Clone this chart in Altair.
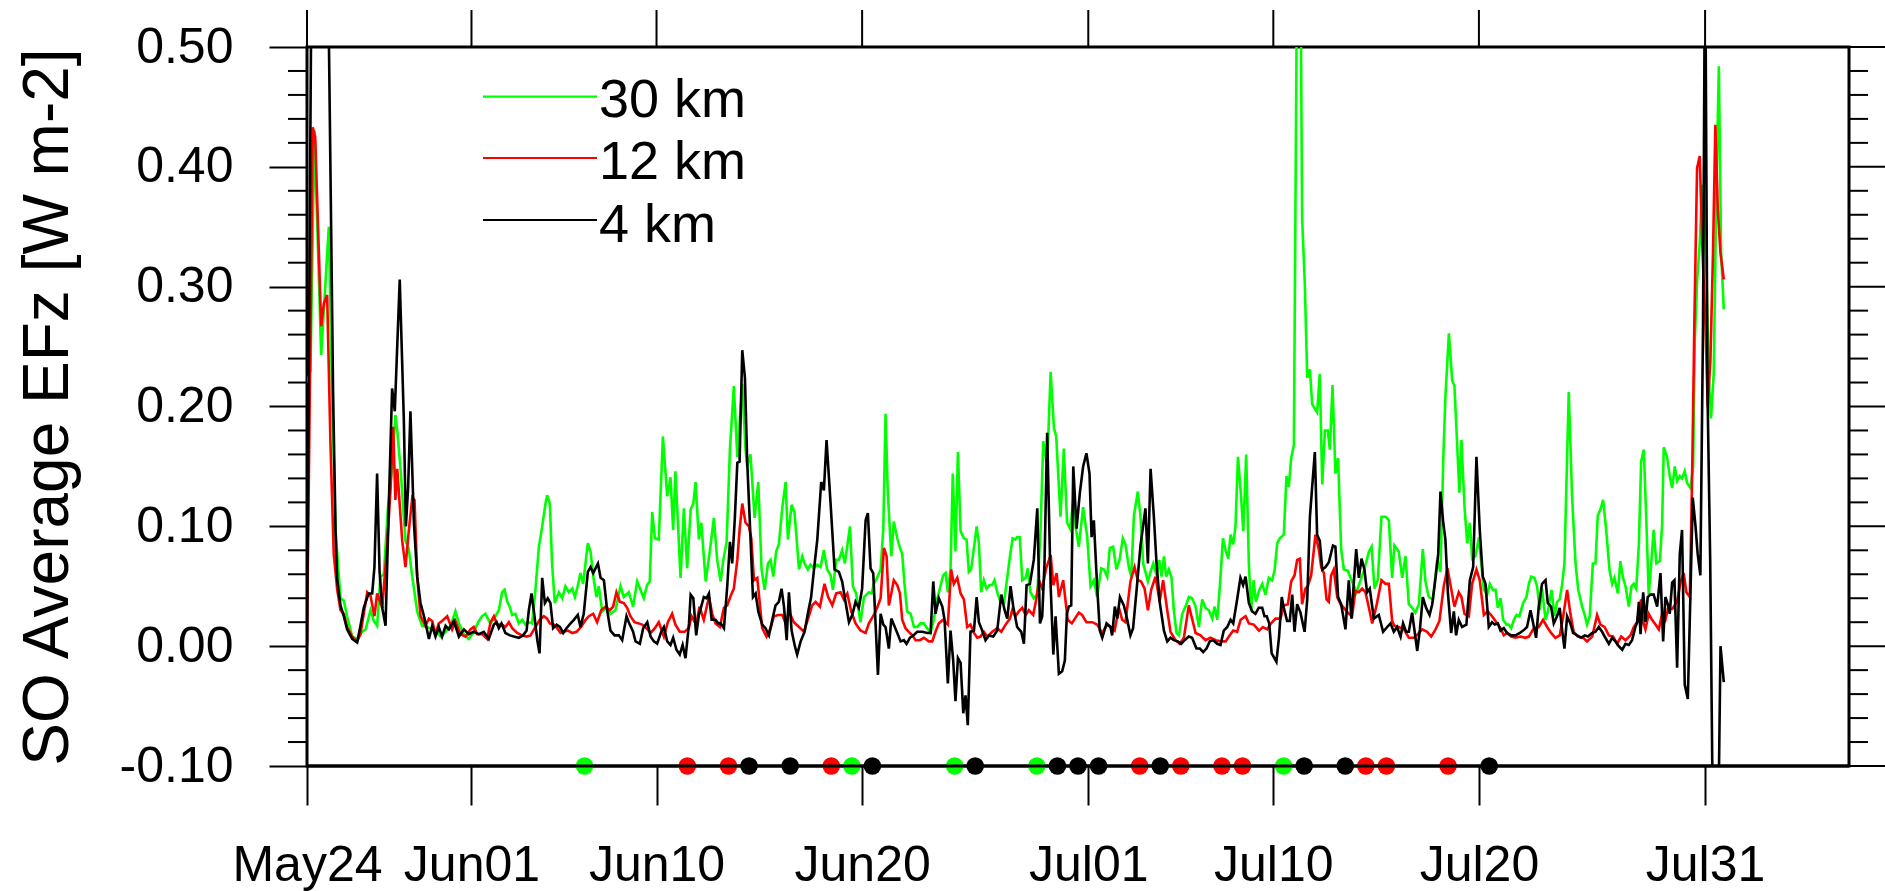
import json
import altair as alt
import pandas as pd

FONT = "Liberation Sans"

# ---------------- data ----------------
# (day offset from May24 00Z, SO average EFz [W m-2])
SERIES_NAMES = ["30 km", "12 km", "4 km"]
SERIES_COLORS = ["#00ff00", "#ff0000", "#000000"]

GREEN_30KM = [
(0.0,0.22),(0.17,0.23),(0.36,0.43),(0.69,0.243),(1.06,0.35),(1.22,0.21),(1.39,0.096),(1.63,0.04),(1.79,0.038),(1.95,0.025),(2.2,0.008),(2.44,0.006),(2.68,0.012),(2.85,0.014),(3.09,0.03),(3.25,0.021),(3.41,0.017),(3.57,0.058),(3.74,0.06),(3.93,0.114),(4.14,0.15),(4.3,0.193),(4.39,0.18),(4.55,0.148),(4.79,0.088),(4.95,0.081),(5.12,0.058),(5.36,0.029),(5.6,0.017),(5.84,0.016),(6.09,0.014),(6.33,0.012),(6.49,0.008),(6.74,0.012),(6.98,0.017),(7.22,0.029),(7.39,0.019),(7.63,0.01),(7.87,0.006),(8.11,0.012),(8.36,0.021),(8.52,0.025),(8.68,0.027),(8.92,0.019),
(9.17,0.025),(9.33,0.03),(9.49,0.045),(9.61,0.047),(9.74,0.037),(9.86,0.033),(9.98,0.026),(10.14,0.027),(10.3,0.019),(10.47,0.022),(10.63,0.018),(10.79,0.02),(10.95,0.019),(11.11,0.047),(11.28,0.083),(11.44,0.1),(11.6,0.119),(11.68,0.126),(11.81,0.119),(11.92,0.069),(12.05,0.036),(12.25,0.045),(12.41,0.04),(12.57,0.05),(12.74,0.045),(12.9,0.048),(13.03,0.041),(13.14,0.048),(13.3,0.061),(13.43,0.052),(13.66,0.086),(13.79,0.079),(13.95,0.055),(14.08,0.041),(14.19,0.05),(14.36,0.029),(14.57,0.032),(14.76,0.027),(15.0,0.03),(15.25,0.05),(15.41,0.041),(15.65,0.045),(15.86,0.033),(16.06,0.054),(16.22,0.047),(16.38,0.04),(16.54,0.051),(16.67,0.054),(16.79,0.112),(16.92,0.09),(17.11,0.089),(17.31,0.175),(17.52,0.125),(17.68,0.141),(17.81,0.097),(17.92,0.146),(18.17,0.057),(18.33,0.115),(18.49,0.065),(18.66,0.114),(18.79,0.119),(18.9,0.137),(19.06,0.089),(19.18,0.103),(19.39,0.054),(19.6,0.08),(19.79,0.107),(19.95,0.072),(20.12,0.054),(20.25,0.072),(20.41,0.087),(20.57,0.164),(20.76,0.217),(20.93,0.158),(21.17,0.219),(21.33,0.164),(21.41,0.15),(21.57,0.16),(21.77,0.107),(21.95,0.137),(22.11,0.064),(22.26,0.047),(22.42,0.069),(22.55,0.072),(22.68,0.058),(22.82,0.079),(22.95,0.085),(23.12,0.116),(23.28,0.137),(23.39,0.089),(23.57,0.118),(23.71,0.112),(23.93,0.064),(24.09,0.075),(24.2,0.069),(24.36,0.064),(24.49,0.068),(24.65,0.065),(24.82,0.068),(24.98,0.066),(25.14,0.08),(25.3,0.064),(25.47,0.059),(25.58,0.047),(25.74,0.072),(25.87,0.072),(26.03,0.08),(26.16,0.069),(26.41,0.1),(26.55,0.05),(26.71,0.044),(26.92,0.02),(27.09,0.041),(27.33,0.045),(27.46,0.044),(27.57,0.052),(27.73,0.057),(27.9,0.064),(28.03,0.098),(28.14,0.194),(28.25,0.128),(28.42,0.075),(28.54,0.104),(28.71,0.09),(28.84,0.082),(28.95,0.077),(29.06,0.052),(29.19,0.029),(29.36,0.027),(29.52,0.016),(29.68,0.016),(29.84,0.019),(30.0,0.019),(30.17,0.015),(30.33,0.011),(30.49,0.022),(30.62,0.037),(30.78,0.048),(30.94,0.059),(31.06,0.061),(31.17,0.045),(31.3,0.064),(31.41,0.144),(31.54,0.079),(31.66,0.162),(31.79,0.096),(31.95,0.09),(32.08,0.089),(32.19,0.062),(32.3,0.064),(32.44,0.082),(32.57,0.1),(32.68,0.086),(32.79,0.045),(32.92,0.055),(33.05,0.048),(33.2,0.051),(33.33,0.051),(33.44,0.055),(33.57,0.045),(33.73,0.037),(33.9,0.036),(34.02,0.052),(34.19,0.075),(34.32,0.09),(34.46,0.089),(34.54,0.091),(34.67,0.091),(34.79,0.055),(34.95,0.057),(35.06,0.065),(35.19,0.045),(35.35,0.04),(35.52,0.043),(35.68,0.098),(35.81,0.171),(36.0,0.15),(36.17,0.229),(36.33,0.182),(36.44,0.175),(36.65,0.108),(36.81,0.165),(36.97,0.103),(37.12,0.098),(37.27,0.122),(37.38,0.1),(37.54,0.083),(37.75,0.116),(37.95,0.091),(38.11,0.05),(38.27,0.055),(38.43,0.041),(38.63,0.065),(38.76,0.064),(38.92,0.058),(39.05,0.082),(39.21,0.083),(39.37,0.064),(39.52,0.072),(39.68,0.09),(39.81,0.085),(39.97,0.066),(40.09,0.058),(40.22,0.109),(40.41,0.129),(40.54,0.108),(40.67,0.069),(40.78,0.062),(40.9,0.054),(41.03,0.062),(41.16,0.069),(41.32,0.059),(41.45,0.072),(41.56,0.058),(41.68,0.075),(41.79,0.058),(41.92,0.064),(42.05,0.057),(42.16,0.03),(42.29,0.011),(42.41,0.009),(42.57,0.027),(42.73,0.033),(42.89,0.041),(43.05,0.04),(43.22,0.033),(43.38,0.016),(43.54,0.039),(43.7,0.032),(43.86,0.03),(44.03,0.023),(44.14,0.033),(44.27,0.022),(44.4,0.05),(44.55,0.09),(44.68,0.08),(44.81,0.073),(44.92,0.093),(45.05,0.085),(45.16,0.1),(45.28,0.158),(45.41,0.13),(45.54,0.096),(45.68,0.16),(45.81,0.069),(45.92,0.029),(46.04,0.055),(46.15,0.037),(46.3,0.046),(46.46,0.052),(46.62,0.043),(46.78,0.057),(46.94,0.055),(47.06,0.063),(47.19,0.086),(47.32,0.09),(47.51,0.093),(47.64,0.142),(47.75,0.133),(47.87,0.157),(48.0,0.168),(48.24,0.79),(48.4,0.358),(48.53,0.303),(48.65,0.224),(48.78,0.231),(48.89,0.202),(49.02,0.198),(49.13,0.195),(49.26,0.227),(49.38,0.135),(49.51,0.18),(49.65,0.18),(49.75,0.164),(49.88,0.218),(50.02,0.144),(50.15,0.157),(50.3,0.081),(50.43,0.064),(50.62,0.063),(50.83,0.054),(51.05,0.045),(51.24,0.055),(51.43,0.064),(51.65,0.079),(51.78,0.083),(51.92,0.048),(52.08,0.055),(52.26,0.108),(52.46,0.108),(52.62,0.105),(52.78,0.057),(52.89,0.084),(53.1,0.079),(53.27,0.057),(53.43,0.075),(53.59,0.035),(53.75,0.032),(53.91,0.028),(54.08,0.035),(54.27,0.081),(54.4,0.054),(54.56,0.041),(54.76,0.039),(54.97,0.072),(55.13,0.062),(55.27,0.158),(55.37,0.208),(55.54,0.261),(55.7,0.222),(55.81,0.217),(55.94,0.169),(56.05,0.128),(56.15,0.172),(56.3,0.116),(56.43,0.086),(56.56,0.103),(56.67,0.073),(56.83,0.075),(57.0,0.091),(57.11,0.069),(57.24,0.047),(57.4,0.043),(57.53,0.052),(57.68,0.047),(57.81,0.047),(57.92,0.032),(58.05,0.04),(58.18,0.022),(58.34,0.018),(58.45,0.018),(58.57,0.015),(58.7,0.022),(58.83,0.026),(58.97,0.025),(59.15,0.036),(59.31,0.041),(59.43,0.052),(59.54,0.058),(59.7,0.057),(59.83,0.05),(59.96,0.03),(60.07,0.048),(60.24,0.022),(60.37,0.03),(60.53,0.047),(60.68,0.025),(60.8,0.037),(60.93,0.039),(61.05,0.052),(61.16,0.069),(61.29,0.158),(61.37,0.212),(61.53,0.125),(61.7,0.069),(61.83,0.047),(62.02,0.033),(62.13,0.027),(62.26,0.018),(62.39,0.025),(62.54,0.069),(62.67,0.069),(62.78,0.109),(62.91,0.114),(63.04,0.122),(63.19,0.097),(63.35,0.064),(63.48,0.052),(63.59,0.057),(63.76,0.044),(63.88,0.071),(64.01,0.057),(64.13,0.05),(64.29,0.033),(64.42,0.05),(64.53,0.052),(64.65,0.048),(64.78,0.085),(64.89,0.154),(65.02,0.164),(65.15,0.101),(65.26,0.043),(65.38,0.069),(65.5,0.097),(65.63,0.069),(65.8,0.071),(65.91,0.101),(65.99,0.166),(66.15,0.158),(66.28,0.142),(66.4,0.132),(66.53,0.15),(66.64,0.138),(66.77,0.142),(66.88,0.14),(67.01,0.146),(67.13,0.136),(67.29,0.132),(67.42,0.15),(67.5,0.255),(67.61,0.304),(67.74,0.336),(67.86,0.385),(67.94,0.376),(68.07,0.308),(68.18,0.223),(68.29,0.19),(68.42,0.227),(68.54,0.372),(68.67,0.484),(68.78,0.328),(68.91,0.281)]

RED_12KM = [
(0.0,0.003),(0.28,0.433),(0.4,0.425),(0.69,0.267),(0.82,0.286),(0.98,0.293),(1.14,0.17),(1.3,0.077),(1.47,0.047),(1.63,0.03),(1.79,0.027),(1.95,0.016),(2.2,0.008),(2.44,0.004),(2.6,0.01),(2.76,0.027),(2.93,0.045),(3.09,0.042),(3.28,0.025),(3.41,0.044),(3.66,0.032),(3.9,0.085),(4.06,0.13),(4.19,0.183),(4.3,0.122),(4.39,0.148),(4.63,0.088),(4.79,0.066),(4.95,0.096),(5.12,0.124),(5.23,0.122),(5.36,0.058),(5.52,0.025),(5.76,0.017),(5.93,0.023),(6.09,0.021),(6.25,0.01),(6.41,0.019),(6.57,0.021),(6.82,0.025),(7.06,0.014),(7.22,0.021),(7.47,0.01),(7.71,0.008),(7.95,0.014),(8.11,0.016),(8.28,0.01),(8.52,0.01),(8.76,0.006),(8.93,0.02),(9.09,0.025),(9.25,0.018),(9.49,0.018),(9.65,0.016),(9.82,0.02),(9.98,0.015),(10.22,0.011),(10.47,0.009),(10.68,0.008),(10.87,0.009),(11.11,0.016),(11.32,0.022),(11.52,0.025),(11.68,0.023),(11.81,0.019),(12.01,0.018),(12.17,0.015),(12.33,0.011),(12.49,0.012),(12.69,0.013),(12.9,0.011),(13.11,0.012),(13.33,0.016),(13.55,0.022),(13.71,0.025),(13.92,0.027),(14.11,0.02),(14.31,0.03),(14.52,0.033),(14.73,0.03),(14.89,0.033),(15.05,0.045),(15.22,0.037),(15.41,0.036),(15.57,0.032),(15.73,0.025),(15.93,0.02),(16.14,0.019),(16.3,0.018),(16.51,0.015),(16.71,0.011),(16.92,0.015),(17.11,0.02),(17.36,0.008),(17.55,0.02),(17.76,0.027),(17.92,0.018),(18.13,0.012),(18.37,0.012),(18.57,0.015),(18.7,0.025),(18.93,0.018),(19.09,0.033),(19.3,0.022),(19.55,0.041),(19.71,0.027),(19.87,0.019),(20.08,0.016),(20.28,0.032),(20.44,0.034),(20.63,0.043),(20.76,0.048),(20.93,0.072),(21.04,0.097),(21.17,0.119),(21.33,0.103),(21.49,0.1),(21.61,0.09),(21.74,0.055),(21.9,0.057),(22.14,0.015),(22.35,0.008),(22.55,0.015),(22.71,0.025),(22.92,0.026),(23.12,0.026),(23.28,0.019),(23.44,0.029),(23.68,0.02),(23.93,0.016),(24.17,0.012),(24.41,0.025),(24.57,0.034),(24.74,0.037),(24.95,0.033),(25.17,0.052),(25.35,0.041),(25.55,0.034),(25.74,0.044),(25.95,0.045),(26.11,0.039),(26.28,0.044),(26.47,0.029),(26.68,0.019),(26.92,0.013),(27.17,0.011),(27.33,0.019),(27.57,0.026),(27.73,0.032),(27.9,0.04),(28.06,0.082),(28.19,0.075),(28.3,0.034),(28.42,0.044),(28.54,0.055),(28.71,0.051),(28.84,0.044),(28.95,0.022),(29.11,0.015),(29.27,0.012),(29.44,0.009),(29.6,0.005),(29.81,0.005),(30.0,0.007),(30.25,0.004),(30.41,0.004),(30.57,0.012),(30.73,0.019),(30.94,0.022),(31.17,0.018),(31.33,0.064),(31.46,0.052),(31.63,0.057),(31.79,0.044),(31.95,0.039),(32.11,0.016),(32.27,0.018),(32.44,0.011),(32.6,0.007),(32.76,0.008),(32.92,0.012),(33.08,0.008),(33.33,0.012),(33.57,0.015),(33.77,0.012),(33.98,0.018),(34.19,0.023),(34.3,0.03),(34.46,0.025),(34.62,0.029),(34.79,0.032),(34.95,0.026),(35.11,0.03),(35.32,0.026),(35.47,0.039),(35.6,0.055),(35.76,0.048),(35.95,0.065),(36.17,0.076),(36.3,0.051),(36.46,0.061),(36.57,0.041),(36.78,0.055),(37.0,0.022),(37.2,0.019),(37.54,0.028),(37.7,0.026),(37.91,0.02),(38.19,0.02),(38.43,0.018),(38.68,0.011),(38.92,0.018),(39.08,0.016),(39.28,0.013),(39.49,0.032),(39.65,0.022),(39.81,0.02),(40.05,0.054),(40.25,0.066),(40.41,0.055),(40.57,0.054),(40.74,0.048),(40.9,0.03),(41.06,0.047),(41.27,0.058),(41.47,0.037),(41.64,0.055),(41.84,0.03),(42.0,0.012),(42.24,0.005),(42.45,0.002),(42.65,0.007),(42.89,0.034),(43.02,0.025),(43.22,0.011),(43.46,0.009),(43.7,0.005),(43.95,0.007),(44.19,0.005),(44.43,0.004),(44.68,0.004),(44.84,0.008),(45.05,0.013),(45.24,0.012),(45.41,0.022),(45.65,0.025),(45.81,0.019),(46.05,0.018),(46.3,0.013),(46.49,0.016),(46.7,0.014),(46.89,0.019),(47.11,0.023),(47.35,0.023),(47.51,0.034),(47.71,0.035),(47.87,0.054),(48.03,0.059),(48.16,0.072),(48.29,0.073),(48.4,0.035),(48.56,0.048),(48.68,0.05),(48.84,0.059),(49.05,0.093),(49.21,0.081),(49.33,0.066),(49.46,0.061),(49.59,0.039),(49.7,0.037),(49.81,0.059),(49.94,0.064),(50.11,0.041),(50.27,0.035),(50.43,0.032),(50.62,0.028),(50.83,0.025),(50.99,0.046),(51.16,0.045),(51.32,0.048),(51.48,0.045),(51.65,0.032),(51.81,0.019),(52.02,0.034),(52.26,0.055),(52.46,0.052),(52.62,0.052),(52.78,0.021),(52.89,0.017),(53.1,0.016),(53.35,0.014),(53.59,0.007),(53.83,0.007),(54.03,0.01),(54.24,0.014),(54.48,0.012),(54.68,0.008),(54.89,0.014),(55.08,0.021),(55.29,0.05),(55.47,0.065),(55.65,0.048),(55.81,0.033),(56.02,0.045),(56.15,0.041),(56.3,0.027),(56.51,0.025),(56.67,0.052),(56.88,0.064),(57.04,0.055),(57.24,0.026),(57.43,0.029),(57.64,0.025),(57.85,0.02),(58.05,0.015),(58.21,0.009),(58.37,0.011),(58.57,0.008),(58.78,0.007),(59.02,0.008),(59.26,0.007),(59.43,0.008),(59.67,0.015),(59.91,0.016),(60.12,0.022),(60.32,0.016),(60.51,0.011),(60.72,0.007),(60.93,0.009),(61.1,0.025),(61.29,0.047),(61.45,0.027),(61.61,0.012),(61.81,0.008),(62.07,0.007),(62.26,0.004),(62.51,0.008),(62.75,0.026),(62.91,0.018),(63.11,0.016),(63.32,0.009),(63.53,0.008),(63.72,0.002),(63.92,0.008),(64.13,0.005),(64.37,0.009),(64.53,0.016),(64.69,0.02),(64.89,0.039),(64.99,0.02),(65.1,0.014),(65.26,0.027),(65.42,0.022),(65.59,0.018),(65.75,0.014),(65.91,0.027),(66.07,0.022),(66.19,0.031),(66.4,0.031),(66.64,0.037),(66.8,0.053),(66.96,0.061),(67.09,0.045),(67.26,0.041),(67.37,0.142),(67.48,0.271),(67.61,0.399),(67.74,0.409),(67.86,0.336),(68.02,0.267),(68.13,0.2),(68.26,0.239),(68.39,0.332),(68.5,0.435),(68.62,0.364),(68.75,0.328),(68.91,0.306)]

BLACK_4KM = [
(0.0,0.0),(0.25,0.65),(0.5,0.8),(0.75,0.7),(1.0,0.6),(1.27,0.21),(1.39,0.096),(1.47,0.055),(1.63,0.034),(1.79,0.025),(1.95,0.014),(2.2,0.006),(2.44,0.003),(2.6,0.017),(2.76,0.032),(3.0,0.044),(3.17,0.044),(3.28,0.066),(3.41,0.144),(3.53,0.062),(3.66,0.032),(3.82,0.017),(3.98,0.118),(4.14,0.215),(4.27,0.196),(4.51,0.306),(4.71,0.189),(4.81,0.1),(4.92,0.133),(5.03,0.196),(5.2,0.103),(5.36,0.058),(5.52,0.036),(5.72,0.023),(5.93,0.006),(6.09,0.017),(6.25,0.008),(6.41,0.016),(6.57,0.008),(6.74,0.017),(6.9,0.014),(7.14,0.021),(7.39,0.008),(7.63,0.014),(7.87,0.01),(8.11,0.012),(8.36,0.01),(8.6,0.012),(8.84,0.006),(9.09,0.018),(9.22,0.02),(9.33,0.015),(9.46,0.019),(9.65,0.011),(9.87,0.009),(10.06,0.008),(10.3,0.007),(10.51,0.009),(10.68,0.013),(10.79,0.03),(10.92,0.044),(11.03,0.03),(11.2,0.005),(11.31,-0.006),(11.44,0.057),(11.57,0.036),(11.71,0.04),(11.84,0.036),(11.97,0.015),(12.14,0.018),(12.3,0.016),(12.46,0.011),(12.62,0.015),(12.82,0.019),(12.98,0.022),(13.17,0.026),(13.3,0.016),(13.46,0.027),(13.66,0.062),(13.79,0.066),(13.92,0.061),(14.15,0.069),(14.28,0.057),(14.44,0.055),(14.6,0.03),(14.76,0.013),(14.96,0.009),(15.17,0.009),(15.33,0.005),(15.54,0.025),(15.65,0.02),(15.86,0.012),(15.98,0.004),(16.19,0.002),(16.35,0.015),(16.55,0.02),(16.71,0.008),(16.87,0.004),(17.03,0.002),(17.23,0.012),(17.36,0.016),(17.52,0.004),(17.68,0.001),(17.81,0.007),(17.97,-0.003),(18.13,-0.007),(18.27,0.001),(18.41,-0.01),(18.58,0.019),(18.66,0.043),(18.79,0.04),(18.93,0.009),(19.06,0.026),(19.19,0.034),(19.3,0.041),(19.43,0.04),(19.55,0.044),(19.68,0.022),(19.87,0.022),(20.0,0.019),(20.12,0.019),(20.28,0.015),(20.44,0.05),(20.57,0.087),(20.68,0.069),(20.81,0.107),(20.93,0.153),(21.04,0.154),(21.17,0.247),(21.3,0.224),(21.41,0.154),(21.54,0.103),(21.69,0.041),(21.82,0.044),(21.95,0.029),(22.14,0.018),(22.3,0.015),(22.47,0.009),(22.63,0.022),(22.79,0.034),(22.95,0.037),(23.08,0.048),(23.2,0.033),(23.33,0.005),(23.44,0.045),(23.57,0.013),(23.73,0.0),(23.84,-0.007),(24.01,0.004),(24.2,0.012),(24.38,0.029),(24.52,0.041),(24.66,0.064),(24.82,0.089),(25.01,0.137),(25.14,0.13),(25.27,0.172),(25.47,0.118),(25.66,0.064),(25.87,0.062),(26.03,0.054),(26.19,0.037),(26.36,0.02),(26.52,0.026),(26.68,0.037),(26.84,0.032),(27.0,0.048),(27.17,0.105),(27.28,0.111),(27.41,0.065),(27.54,0.061),(27.77,-0.024),(27.9,0.027),(28.03,0.018),(28.14,0.016),(28.3,-0.002),(28.42,0.023),(28.54,0.018),(28.71,0.011),(28.87,0.004),(29.03,0.005),(29.16,0.002),(29.32,0.007),(29.49,0.009),(29.68,0.012),(29.93,0.012),(30.17,0.011),(30.33,0.011),(30.46,0.054),(30.57,0.027),(30.73,0.04),(30.9,0.033),(31.01,0.022),(31.17,-0.031),(31.3,0.013),(31.43,-0.012),(31.54,-0.046),(31.66,-0.01),(31.79,-0.014),(31.92,-0.056),(32.03,-0.041),(32.14,-0.066),(32.27,0.012),(32.44,0.013),(32.57,0.041),(32.68,0.02),(32.84,0.013),(33.0,0.005),(33.17,0.009),(33.38,0.008),(33.57,0.013),(33.77,0.043),(33.93,0.03),(34.06,0.023),(34.22,0.05),(34.35,0.033),(34.54,0.016),(34.74,0.012),(34.87,0.002),(35.0,0.051),(35.16,0.052),(35.35,0.072),(35.52,0.115),(35.65,0.019),(35.76,0.025),(35.87,0.069),(36.0,0.178),(36.17,0.05),(36.3,-0.007),(36.41,0.025),(36.57,-0.023),(36.73,-0.021),(36.86,-0.012),(36.96,0.027),(37.05,0.033),(37.17,0.034),(37.27,0.15),(37.43,0.098),(37.59,0.128),(37.75,0.15),(37.91,0.161),(38.06,0.144),(38.16,0.091),(38.27,0.105),(38.43,0.05),(38.56,0.013),(38.68,0.007),(38.89,0.019),(39.08,0.016),(39.16,0.009),(39.29,0.033),(39.41,0.023),(39.54,0.041),(39.73,0.034),(39.86,0.025),(40.05,0.009),(40.18,0.015),(40.35,0.047),(40.54,0.084),(40.78,0.115),(40.9,0.069),(41.03,0.148),(41.19,0.108),(41.32,0.069),(41.48,0.036),(41.68,0.013),(41.84,0.004),(42.0,0.007),(42.16,0.005),(42.36,0.004),(42.52,0.002),(42.68,0.005),(42.89,0.008),(43.05,0.007),(43.26,-0.002),(43.43,-0.002),(43.59,-0.005),(43.75,-0.002),(43.91,0.004),(44.08,0.005),(44.27,0.002),(44.43,0.001),(44.59,0.013),(44.76,0.016),(44.92,0.022),(45.05,0.019),(45.24,0.039),(45.4,0.057),(45.53,0.051),(45.65,0.058),(45.81,0.036),(45.97,0.029),(46.13,0.027),(46.29,0.032),(46.46,0.032),(46.57,0.025),(46.68,0.025),(46.8,0.019),(46.92,-0.006),(47.15,-0.013),(47.28,0.008),(47.41,0.041),(47.51,0.032),(47.67,0.021),(47.8,0.021),(47.92,0.043),(48.03,0.012),(48.16,0.035),(48.32,0.028),(48.52,0.012),(48.65,0.039),(48.78,0.108),(48.89,0.133),(49.02,0.162),(49.13,0.093),(49.26,0.088),(49.38,0.064),(49.54,0.066),(49.7,0.07),(49.9,0.084),(50.02,0.083),(50.15,0.041),(50.3,0.035),(50.51,0.014),(50.67,0.055),(50.8,0.023),(50.92,0.054),(51.03,0.081),(51.16,0.057),(51.29,0.073),(51.43,0.064),(51.56,0.045),(51.69,0.048),(51.89,0.023),(52.13,0.026),(52.34,0.012),(52.54,0.016),(52.7,0.019),(52.86,0.012),(53.02,0.016),(53.19,0.008),(53.31,0.019),(53.46,0.012),(53.59,0.012),(53.75,0.028),(54.0,-0.004),(54.13,0.014),(54.27,0.041),(54.43,0.032),(54.6,0.026),(54.73,0.035),(54.89,0.057),(55.02,0.077),(55.13,0.129),(55.26,0.104),(55.37,0.089),(55.49,0.045),(55.65,0.011),(55.78,0.029),(55.89,0.009),(56.02,0.022),(56.18,0.016),(56.39,0.018),(56.56,0.055),(56.72,0.066),(56.88,0.158),(57.04,0.097),(57.19,0.058),(57.32,0.052),(57.48,0.016),(57.64,0.02),(57.77,0.018),(57.92,0.019),(58.05,0.013),(58.21,0.015),(58.37,0.011),(58.57,0.009),(58.78,0.009),(58.99,0.011),(59.15,0.013),(59.34,0.016),(59.51,0.03),(59.64,0.019),(59.78,0.007),(59.91,0.033),(60.07,0.052),(60.24,0.055),(60.35,0.036),(60.51,0.033),(60.64,0.019),(60.8,0.025),(60.93,0.032),(61.05,0.013),(61.16,-0.002),(61.29,0.025),(61.45,0.019),(61.58,0.011),(61.78,0.009),(61.97,0.007),(62.15,0.009),(62.3,0.008),(62.51,0.011),(62.67,0.012),(62.83,0.016),(62.99,0.012),(63.15,0.007),(63.32,0.002),(63.48,0.007),(63.64,0.004),(63.8,0.0),(63.97,-0.003),(64.13,0.002),(64.29,0.001),(64.45,0.005),(64.61,0.016),(64.7,0.02),(64.78,0.037),(64.86,0.01),(64.99,0.045),(65.1,0.02),(65.21,0.041),(65.34,0.043),(65.5,0.043),(65.67,0.033),(65.83,0.061),(65.96,0.004),(66.07,0.041),(66.19,0.035),(66.28,0.027),(66.4,0.053),(66.51,0.055),(66.64,-0.018),(66.77,0.077),(66.88,0.097),(67.01,-0.032),(67.16,-0.044),(67.29,0.045),(67.4,0.124),(67.53,0.101),(67.64,0.077),(67.77,0.059),(67.9,0.267),(68.0,0.6),(68.12,0.21),(68.25,0.07),(68.5,-0.35),(68.75,0.0),(68.91,-0.03)]

# event days (marker at noon of these days, on the -0.10 line)
EVENT_DAYS_30KM = [13.5, 26.5, 31.5, 35.5, 47.5]
EVENT_DAYS_12KM = [18.5, 20.5, 25.5, 40.5, 42.5, 44.5, 45.5, 51.5, 52.5, 55.5]
EVENT_DAYS_4KM = [21.5, 23.5, 27.5, 32.5, 36.5, 37.5, 38.5, 41.5, 48.5, 50.5, 57.5]
EVENT_LEVEL = -0.10

# axis ticks
DAY_TICKS = [0, 8, 17, 27, 38, 47, 57, 68]
DAY_LABELS = ["May24", "Jun01", "Jun10", "Jun20", "Jul01", "Jul10", "Jul20", "Jul31"]
Y_MAJOR = [-0.1, 0.0, 0.1, 0.2, 0.3, 0.4, 0.5]
Y_MINOR = [-0.08, -0.06, -0.04, -0.02, 0.02, 0.04, 0.06, 0.08, 0.12, 0.14, 0.16, 0.18,
           0.22, 0.24, 0.26, 0.28, 0.32, 0.34, 0.36, 0.38, 0.42, 0.44, 0.46, 0.48]
Y_TITLE = "SO Average EFz [W m-2]"
X_DOMAIN = [0, 75]
Y_DOMAIN = [-0.1, 0.5]

# ---------------- layout ----------------
W, H = 1542, 719
MAJOR_TICK = 38
MINOR_TICK = 19
LINE_W = 2.6
FRAME_W = 3

x_scale = alt.Scale(domain=X_DOMAIN, nice=False, zero=False)
y_scale = alt.Scale(domain=Y_DOMAIN, nice=False, zero=False)

x_label_expr = "{}[indexof({}, datum.value)]".format(json.dumps(DAY_LABELS), json.dumps(DAY_TICKS))
y_label_expr = "datum.value < 0 ? '-' + format(-datum.value, '.2f') : format(datum.value, '.2f')"

x_axis = alt.Axis(values=DAY_TICKS, labelExpr=x_label_expr, title=None, domain=False, grid=False,
                  tickSize=39, tickWidth=2, tickColor="black", labelFont=FONT, labelFontSize=50,
                  labelColor="black", labelPadding=35, labelOverlap=False, labelFlush=False,
                  labelBound=False)
y_axis = alt.Axis(values=Y_MAJOR, labelExpr=y_label_expr, title=Y_TITLE, domain=False, grid=False,
                  tickSize=MAJOR_TICK, tickWidth=2, tickColor="black", labelFont=FONT,
                  labelFontSize=50, labelColor="black", labelPadding=36, labelOverlap=False,
                  labelFlush=False, labelBound=False, titleFont=FONT, titleFontSize=64,
                  titleFontWeight="normal", titleColor="black", titleAngle=270,
                  titleX=-240, titleY=H / 2, titleBaseline="alphabetic", titleAlign="center")

X_ENC = dict(field="day", type="quantitative", scale=x_scale, axis=x_axis)
Y_ENC = dict(field="efz", type="quantitative", scale=y_scale, axis=y_axis)


def series_df(pairs, name):
    return pd.DataFrame({"day": [p[0] for p in pairs], "efz": [p[1] for p in pairs], "run": name})


def line_layer(pairs, name, color):
    df = series_df(pairs, name)
    return alt.Chart(df).mark_line(color=color, strokeWidth=LINE_W, clip=True).encode(
        x=alt.X(**X_ENC), y=alt.Y(**Y_ENC), order="day:Q",
    )


layers = [
    line_layer(GREEN_30KM, SERIES_NAMES[0], SERIES_COLORS[0]),
    line_layer(RED_12KM, SERIES_NAMES[1], SERIES_COLORS[1]),
    line_layer(BLACK_4KM, SERIES_NAMES[2], SERIES_COLORS[2]),
]

ev = pd.DataFrame({
    "day": EVENT_DAYS_30KM + EVENT_DAYS_12KM + EVENT_DAYS_4KM,
    "run": [SERIES_NAMES[0]] * len(EVENT_DAYS_30KM) + [SERIES_NAMES[1]] * len(EVENT_DAYS_12KM)
    + [SERIES_NAMES[2]] * len(EVENT_DAYS_4KM),
})
ev["efz"] = EVENT_LEVEL
layers.append(
    alt.Chart(ev).mark_circle(size=310, opacity=1).encode(
        x=alt.X(**X_ENC), y=alt.Y(**Y_ENC),
        color=alt.Color("run:N", scale=alt.Scale(domain=SERIES_NAMES, range=SERIES_COLORS), legend=None),
    )
)

# frame bottom line over the markers
layers.append(
    alt.Chart(pd.DataFrame({"efz": [EVENT_LEVEL]})).mark_rule(color="black", strokeWidth=FRAME_W).encode(
        y=alt.Y(**Y_ENC), x=alt.value(0), x2=alt.value(W))
)

minor_df = pd.DataFrame({"efz": Y_MINOR})
major_df = pd.DataFrame({"efz": Y_MAJOR})
# left minor ticks
layers.append(alt.Chart(minor_df).mark_rule(color="black", strokeWidth=2).encode(
    y=alt.Y(**Y_ENC), x=alt.value(-MINOR_TICK), x2=alt.value(0)))
# right major / minor ticks
layers.append(alt.Chart(major_df).mark_rule(color="black", strokeWidth=2).encode(
    y=alt.Y(**Y_ENC), x=alt.value(W), x2=alt.value(W + MAJOR_TICK)))
layers.append(alt.Chart(minor_df).mark_rule(color="black", strokeWidth=2).encode(
    y=alt.Y(**Y_ENC), x=alt.value(W), x2=alt.value(W + MINOR_TICK)))
# top x ticks
layers.append(alt.Chart(pd.DataFrame({"day": DAY_TICKS})).mark_rule(color="black", strokeWidth=2).encode(
    x=alt.X(**X_ENC), y=alt.value(-37), y2=alt.value(0)))

# legend
LEG_LINE_Y = [49.7, 111.0, 173.0]
LEG_TEXT_Y = [69.7, 132.3, 194.7]
for name, color, ly, ty in zip(SERIES_NAMES, SERIES_COLORS, LEG_LINE_Y, LEG_TEXT_Y):
    ldf = pd.DataFrame({"label": [name]})
    layers.append(alt.Chart(ldf).mark_rule(color=color, strokeWidth=2.2).encode(
        x=alt.value(176), x2=alt.value(290), y=alt.value(ly)))
    layers.append(alt.Chart(ldf).mark_text(align="left", baseline="alphabetic", font=FONT,
                                           fontSize=54, color="black").encode(
        x=alt.value(292), y=alt.value(ty), text="label:N"))

chart = alt.layer(*layers).properties(
    width=W, height=H,
    padding={"left": 307, "top": 47, "right": 36, "bottom": 125},
    autosize=alt.AutoSizeParams(type="none"),
    background="white",
).configure_view(stroke="black", strokeWidth=FRAME_W)

chart.save("out.html", embed_options={"renderer": "svg", "actions": False})
